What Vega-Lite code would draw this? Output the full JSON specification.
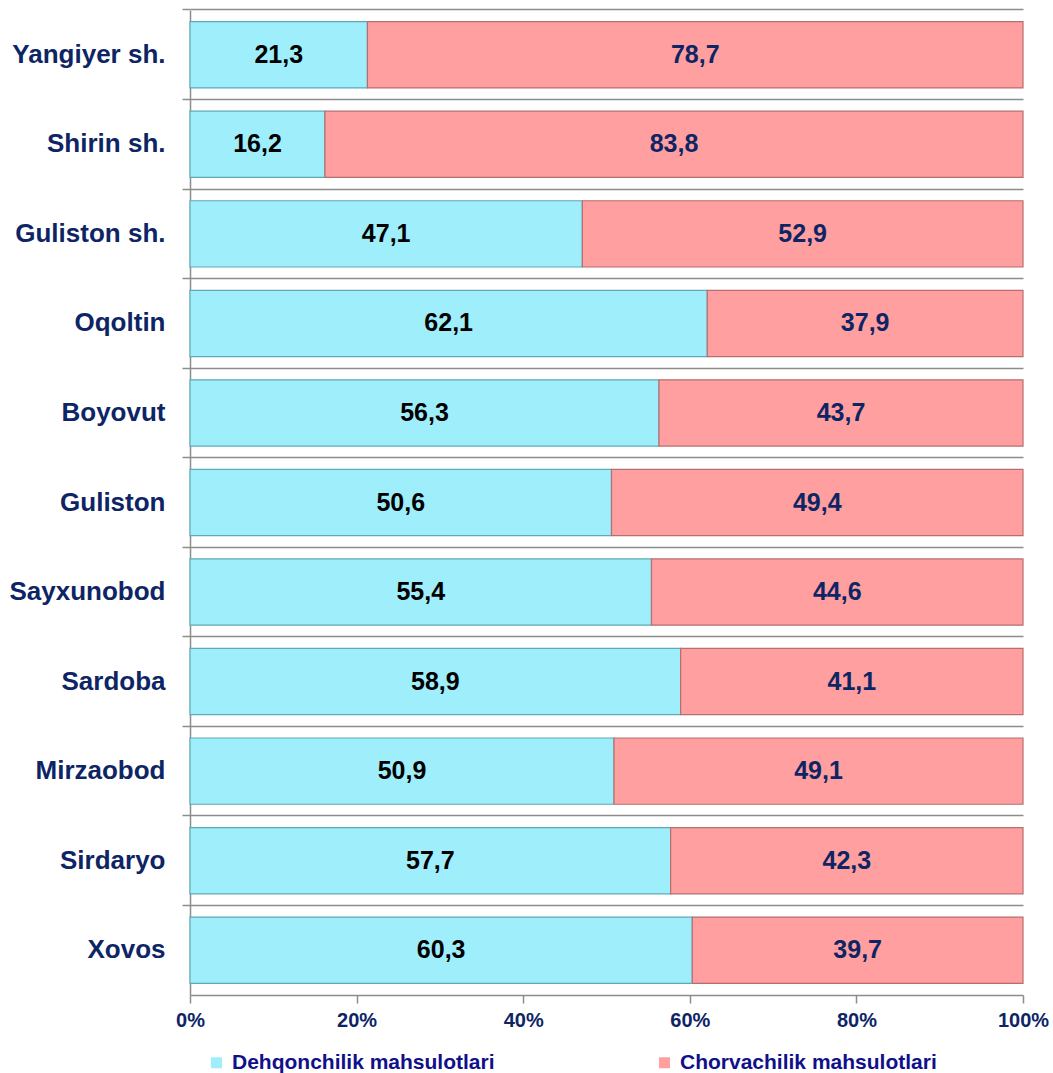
{
  "$schema": "https://vega.github.io/schema/vega-lite/v6.json",
  "width": 833,
  "height": 985,
  "autosize": "none",
  "padding": {"left": 190, "top": 10, "right": 30, "bottom": 78},
  "background": "white",
  "config": {
    "view": {"stroke": null},
    "font": "Liberation Sans",
    "locale": {"number": {"decimal": ",", "thousands": " ", "grouping": [3], "currency": ["", ""]}}
  },
  "data": {
    "values": [
      {"district": "Yangiyer sh.", "series": "Dehqonchilik mahsulotlari", "k": 1, "value": 21.3},
      {"district": "Yangiyer sh.", "series": "Chorvachilik mahsulotlari", "k": 2, "value": 78.7},
      {"district": "Shirin sh.", "series": "Dehqonchilik mahsulotlari", "k": 1, "value": 16.2},
      {"district": "Shirin sh.", "series": "Chorvachilik mahsulotlari", "k": 2, "value": 83.8},
      {"district": "Guliston sh.", "series": "Dehqonchilik mahsulotlari", "k": 1, "value": 47.1},
      {"district": "Guliston sh.", "series": "Chorvachilik mahsulotlari", "k": 2, "value": 52.9},
      {"district": "Oqoltin", "series": "Dehqonchilik mahsulotlari", "k": 1, "value": 62.1},
      {"district": "Oqoltin", "series": "Chorvachilik mahsulotlari", "k": 2, "value": 37.9},
      {"district": "Boyovut", "series": "Dehqonchilik mahsulotlari", "k": 1, "value": 56.3},
      {"district": "Boyovut", "series": "Chorvachilik mahsulotlari", "k": 2, "value": 43.7},
      {"district": "Guliston", "series": "Dehqonchilik mahsulotlari", "k": 1, "value": 50.6},
      {"district": "Guliston", "series": "Chorvachilik mahsulotlari", "k": 2, "value": 49.4},
      {"district": "Sayxunobod", "series": "Dehqonchilik mahsulotlari", "k": 1, "value": 55.4},
      {"district": "Sayxunobod", "series": "Chorvachilik mahsulotlari", "k": 2, "value": 44.6},
      {"district": "Sardoba", "series": "Dehqonchilik mahsulotlari", "k": 1, "value": 58.9},
      {"district": "Sardoba", "series": "Chorvachilik mahsulotlari", "k": 2, "value": 41.1},
      {"district": "Mirzaobod", "series": "Dehqonchilik mahsulotlari", "k": 1, "value": 50.9},
      {"district": "Mirzaobod", "series": "Chorvachilik mahsulotlari", "k": 2, "value": 49.1},
      {"district": "Sirdaryo", "series": "Dehqonchilik mahsulotlari", "k": 1, "value": 57.7},
      {"district": "Sirdaryo", "series": "Chorvachilik mahsulotlari", "k": 2, "value": 42.3},
      {"district": "Xovos", "series": "Dehqonchilik mahsulotlari", "k": 1, "value": 60.3},
      {"district": "Xovos", "series": "Chorvachilik mahsulotlari", "k": 2, "value": 39.7}
    ]
  },
  "encoding": {
    "y": {
      "field": "district",
      "type": "nominal",
      "sort": null,
      "scale": {"paddingInner": 0.26, "paddingOuter": 0.13},
      "axis": {
        "title": null,
        "bandPosition": -0.1757,
        "grid": true,
        "gridColor": "#8c8c8c",
        "gridWidth": 1.5,
        "domainColor": "#8c8c8c",
        "domainWidth": 1.5,
        "tickColor": "#8c8c8c",
        "tickWidth": 1.5,
        "tickSize": 8,
        "labelFont": "Liberation Sans",
        "labelFontSize": 26,
        "labelFontWeight": "bold",
        "labelColor": "#0e2565",
        "labelPadding": 17
      }
    }
  },
  "layer": [
    {
      "mark": {"type": "bar", "strokeWidth": 1.2},
      "encoding": {
        "x": {
          "field": "value",
          "type": "quantitative",
          "stack": "normalize",
          "scale": {"domain": [0, 1], "nice": false},
          "axis": {
            "title": null,
            "format": ".0%",
            "values": [0, 0.2, 0.4, 0.6, 0.8, 1],
            "grid": false,
            "labelFlush": false,
            "domainColor": "#8c8c8c",
            "domainWidth": 1.5,
            "tickColor": "#8c8c8c",
            "tickWidth": 1.5,
            "tickSize": 8,
            "labelFont": "Liberation Sans",
            "labelFontSize": 20,
            "labelFontWeight": "bold",
            "labelColor": "#0e2565",
            "labelPadding": 7
          }
        },
        "order": {"field": "k", "type": "quantitative"},
        "color": {
          "field": "series",
          "type": "nominal",
          "scale": {
            "domain": ["Dehqonchilik mahsulotlari", "Chorvachilik mahsulotlari"],
            "range": ["#9eeefc", "#ff9f9f"]
          },
          "legend": {
            "title": null,
            "orient": "none",
            "legendX": 16,
            "legendY": 1042,
            "direction": "horizontal",
            "columns": 2,
            "columnPadding": 159,
            "symbolType": "square",
            "symbolSize": 121,
            "symbolStrokeWidth": 0,
            "labelOffset": 5,
            "labelFont": "Liberation Sans",
            "labelFontSize": 21,
            "labelFontWeight": "bold",
            "labelColor": "#10108a",
            "labelLimit": 400
          }
        },
        "stroke": {
          "field": "series",
          "type": "nominal",
          "scale": {
            "domain": ["Dehqonchilik mahsulotlari", "Chorvachilik mahsulotlari"],
            "range": ["#5fa9b8", "#b86e6e"]
          },
          "legend": null
        }
      }
    },
    {
      "mark": {"type": "text", "fontSize": 25, "fontWeight": "bold", "font": "Liberation Sans", "baseline": "middle", "align": "center"},
      "encoding": {
        "x": {"field": "value", "type": "quantitative", "stack": "normalize", "bandPosition": 0.5},
        "detail": {"field": "series"},
        "order": {"field": "k", "type": "quantitative"},
        "text": {"field": "value", "type": "quantitative", "format": ".1f"},
        "color": {
          "condition": {"test": "datum.k === 1", "value": "#000000"},
          "value": "#0e2565"
        }
      }
    }
  ]
}
